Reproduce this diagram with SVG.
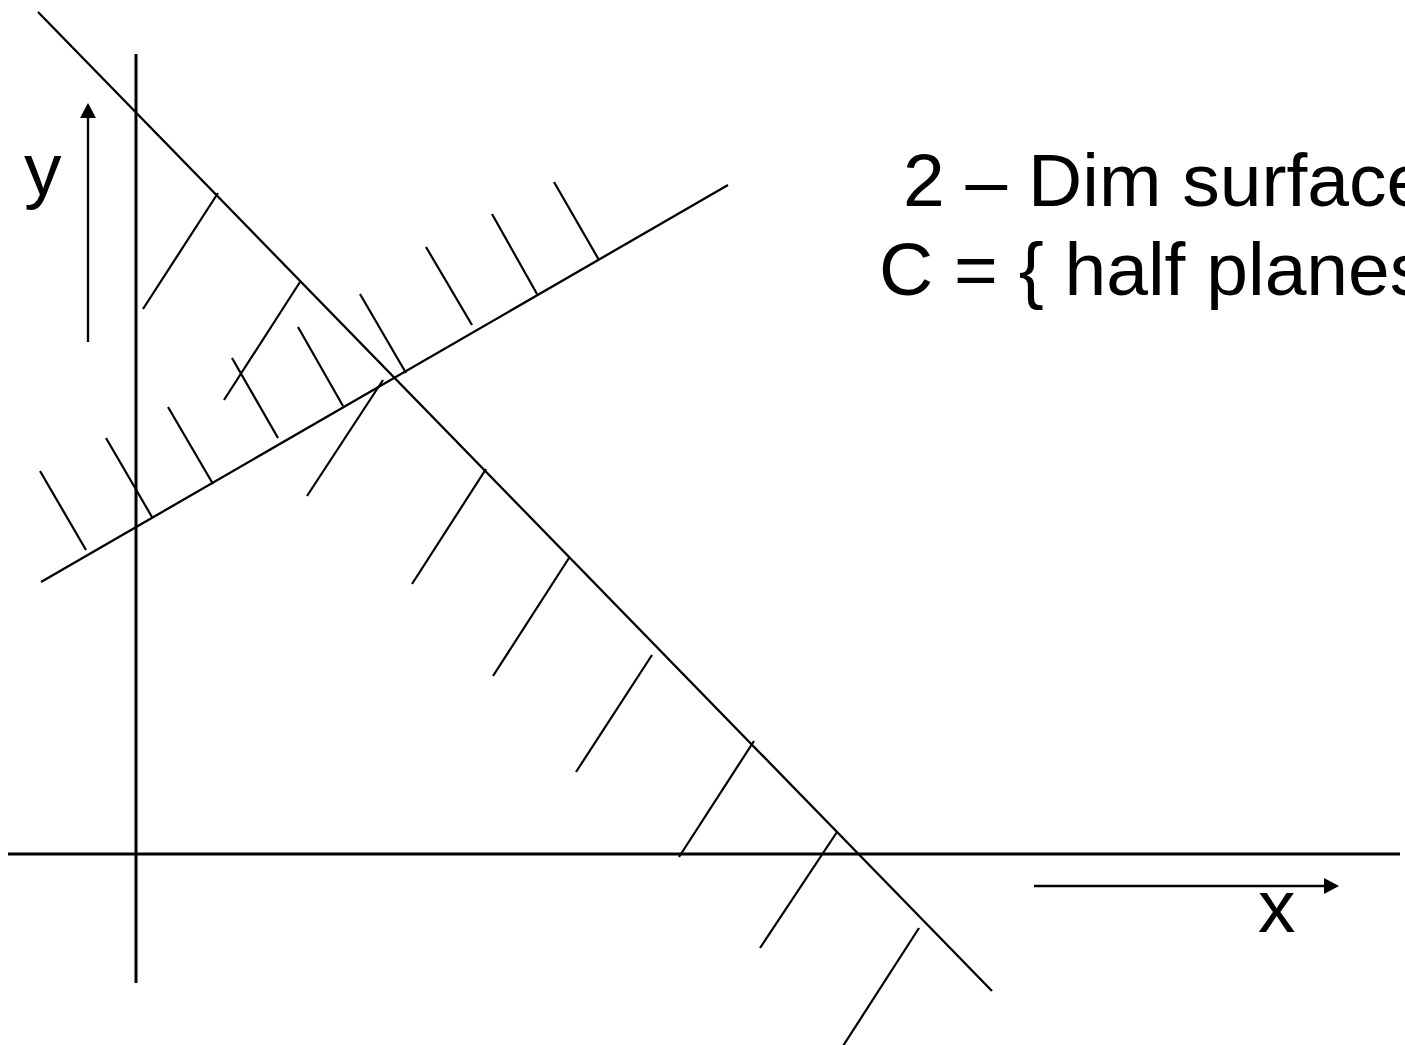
<svg xmlns="http://www.w3.org/2000/svg" width="1405" height="1045" viewBox="0 0 1405 1045">
<style>
.axis{stroke:#000;stroke-width:3;fill:none}
.ln{stroke:#000;stroke-width:2.3;fill:none}
.h{stroke:#000;stroke-width:2.2;fill:none}
.t{font-family:"Liberation Sans",Arial,sans-serif;font-size:75px;fill:#000}
</style>
<defs>
<marker id="ah" markerUnits="userSpaceOnUse" markerWidth="16" markerHeight="16" refX="0" refY="8" orient="auto">
<path d="M0,0 L15,8 L0,16 z" fill="#000"/>
</marker>
</defs>
<rect width="1405" height="1045" fill="#fff"/>
<g id="axes">
<line class="axis" x1="136" y1="54" x2="136" y2="983"/>
<line class="axis" x1="8" y1="854" x2="1400" y2="854"/>
</g>
<g id="lines">
<line class="ln" x1="38" y1="12" x2="992" y2="991"/>
<line class="ln" x1="41" y1="582" x2="728" y2="185"/>
</g>
<g id="hatch-descending">
<line class="h" x1="218" y1="193" x2="143" y2="309"/>
<line class="h" x1="300" y1="282" x2="224" y2="400"/>
<line class="h" x1="383" y1="380" x2="307" y2="496"/>
<line class="h" x1="486" y1="469" x2="412" y2="584"/>
<line class="h" x1="569" y1="558" x2="493" y2="676"/>
<line class="h" x1="652" y1="655" x2="576" y2="772"/>
<line class="h" x1="754" y1="741" x2="679" y2="857"/>
<line class="h" x1="837" y1="832" x2="760" y2="948"/>
<line class="h" x1="919" y1="928" x2="843" y2="1046"/>
</g>
<g id="hatch-rising">
<line class="h" x1="40" y1="471" x2="86" y2="550"/>
<line class="h" x1="106" y1="438" x2="152" y2="517"/>
<line class="h" x1="168" y1="407" x2="213" y2="484"/>
<line class="h" x1="232" y1="358" x2="278" y2="438"/>
<line class="h" x1="298" y1="327" x2="343" y2="406"/>
<line class="h" x1="360" y1="294" x2="406" y2="373"/>
<line class="h" x1="426" y1="247" x2="472" y2="325"/>
<line class="h" x1="492" y1="214" x2="537" y2="294"/>
<line class="h" x1="554" y1="182" x2="599" y2="260"/>
</g>
<g id="connectors">
<line class="ln" x1="88" y1="342" x2="88" y2="118" marker-end="url(#ah)"/>
<line class="ln" x1="1034" y1="886" x2="1324" y2="886" marker-end="url(#ah)"/>
</g>
<g id="labels">
<text class="t" x="24" y="195">y</text>
<text class="t" x="1258" y="932">x</text>
<text class="t" x="903" y="206">2 – Dim surface</text>
<text class="t" x="879" y="295">C = { half planes</text>
</g>
</svg>
